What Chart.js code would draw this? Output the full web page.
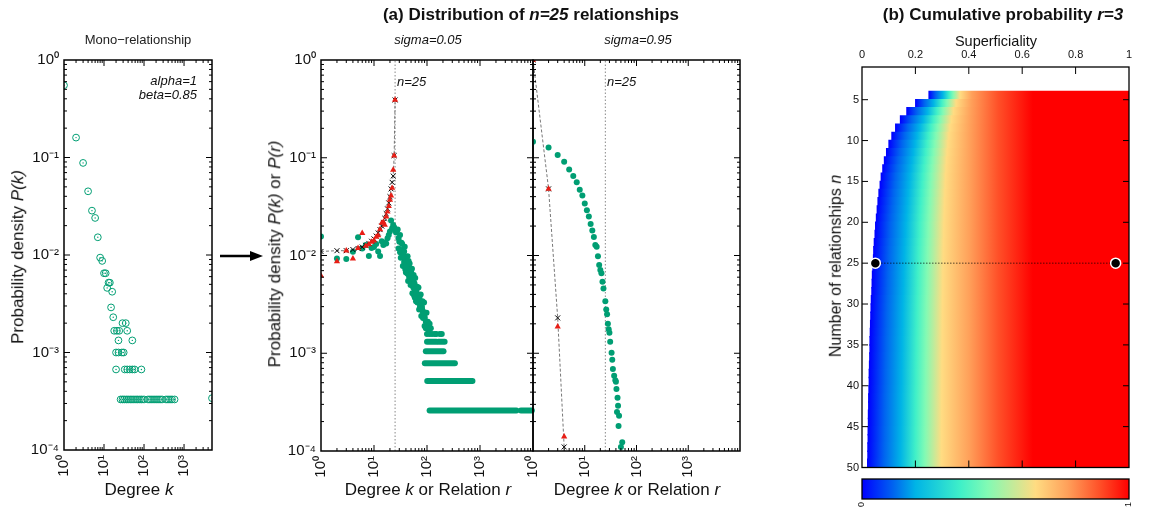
<!DOCTYPE html>
<html>
<head>
<meta charset="utf-8">
<script src="https://cdn.jsdelivr.net/npm/chart.js@4.4.1/dist/chart.umd.min.js"></script>
<style>
body { margin: 0; background: #fff; }
#fig { position: relative; width: 1150px; height: 514px; overflow: hidden; background: #fff;
       font-family: "Liberation Sans", Arial, Helvetica, sans-serif; color: #111; }
.box { position: absolute; }
.t { position: absolute; white-space: nowrap; transform: translate(-50%, -50%); line-height: 1.15; }
.r { transform: translate(-100%, -50%); }
.l { transform: translate(0, -50%); }
.rot { transform: translate(-50%, -50%) rotate(-90deg); }
.b { font-weight: bold; }
</style>
</head>
<body>
<div id="fig">
  <div class="box" style="left:0;top:0;width:230px;height:514px"><canvas id="mono" width="230" height="514"></canvas></div>
  <div class="box" style="left:250px;top:0;width:294px;height:514px"><canvas id="low" width="294" height="514"></canvas></div>
  <div class="box" style="left:515px;top:0;width:235px;height:514px"><canvas id="high" width="235" height="514"></canvas></div>
  <div class="box" style="left:800px;top:0;width:350px;height:474px"><canvas id="heat" width="350" height="474"></canvas></div>
  <div class="box" style="left:800px;top:474px;width:350px;height:40px"><canvas id="cbar" width="350" height="40"></canvas></div>

  <svg class="box" style="left:215px;top:248px" width="55" height="16">
    <line x1="5" y1="8" x2="38" y2="8" stroke="#000" stroke-width="2.5"/>
    <polygon points="35,3 48,8 35,13" fill="#000"/>
  </svg>

  <div class="t" style="left:138px;top:40px;font-size:13px;color:#222">Mono−relationship</div>
  <div class="t r" style="left:197px;top:81px;font-size:13px;font-style:italic">alpha=1</div>
  <div class="t r" style="left:197px;top:95px;font-size:13px;font-style:italic">beta=0.85</div>
  <div class="t rot" style="left:18px;top:257px;font-size:17px">Probability density <i>P(k)</i></div>
  <div class="t" style="left:139px;top:490px;font-size:17px">Degree <i>k</i></div>

  <div class="t b" style="left:531px;top:15px;font-size:17px">(a) Distribution of <i>n=25</i> relationships</div>
  <div class="t" style="left:428px;top:40px;font-size:13px;font-style:italic">sigma=0.05</div>
  <div class="t" style="left:638px;top:40px;font-size:13px;font-style:italic">sigma=0.95</div>
  <div class="t l" style="left:397px;top:82px;font-size:13px;font-style:italic">n=25</div>
  <div class="t l" style="left:607px;top:82px;font-size:13px;font-style:italic">n=25</div>
  <div class="t rot" style="left:275px;top:254px;font-size:17px">Probability density <i>P(k)</i> or <i>P(r)</i></div>
  <div class="t" style="left:428px;top:490px;font-size:17px">Degree <i>k</i> or Relation <i>r</i></div>
  <div class="t" style="left:637px;top:490px;font-size:17px">Degree <i>k</i> or Relation <i>r</i></div>

  <div class="t b" style="left:1003px;top:15px;font-size:17px">(b) Cumulative probability <i>r=3</i></div>
  <div class="t" style="left:996px;top:41px;font-size:14.5px">Superficiality</div>
  <div class="t rot" style="left:836px;top:266px;font-size:16px">Number of relationships <i>n</i></div>
</div>

<script>
// ---- mono-relationship (alpha=1, beta=0.85)
const monoDegree = [1, 2, 3, 4, 5, 6, 7, 8, 9, 10, 11, 12, 13, 14, 15, 16, 17,
  18, 21, 24, 38,
  29, 35,
  23, 51,
  20, 23, 28, 31,
  20, 33, 38, 44, 51, 58, 86,
  26, 29, 32, 36, 40, 45, 50, 56, 63, 70, 79, 88, 100, 126, 141, 158, 178, 200, 224, 251, 282, 355, 398, 447, 500, 580, 5000];
const monoDensity = [0.55, 0.16, 0.088, 0.045, 0.0285, 0.024, 0.0152, 0.0094, 0.0087, 0.0065, 0.0065, 0.0046, 0.0052, 0.0052, 0.0029, 0.0042, 0.0023,
  0.00167, 0.00167, 0.00167, 0.00167,
  0.002, 0.002,
  0.00133, 0.00133,
  0.001, 0.001, 0.001, 0.001,
  0.00067, 0.00067, 0.00067, 0.00067, 0.00067, 0.00067, 0.00067,
  0.00033, 0.00033, 0.00033, 0.00033, 0.00033, 0.00033, 0.00033, 0.00033, 0.00033, 0.00033, 0.00033, 0.00033, 0.00033,
  0.00033, 0.00033, 0.00033, 0.00033, 0.00033, 0.00033, 0.00033, 0.00033, 0.00033, 0.00033, 0.00033, 0.00033, 0.00033, 0.00034];

// ---- n=25, sigma=0.05 : degree distribution (green)
const lowDegree = [1, 2, 3, 4, 5, 6, 7, 8, 9, 10, 11, 12, 13, 14, 15, 16, 17, 18, 19, 20, 21, 22, 23, 24, 25, 26, 27,
  28, 29, 30, 31, 32, 33, 34, 35, 36, 37, 38, 39, 40, 41, 42, 43, 44, 45, 46, 47, 48, 49, 50, 51, 52, 53, 54, 55, 56,
  57, 58, 59, 60, 62, 63, 65, 66, 68, 69, 71, 72, 74, 76, 78, 80, 82, 84, 86, 88, 90, 92, 95, 98, 100, 104, 108, 112,
  61, 64, 67, 70, 73, 75, 77, 79, 81, 83, 85, 87, 89, 91,
  29, 31, 33, 35, 37, 39, 41, 43, 45, 47, 49, 51, 53, 55, 57, 59,
  95, 105, 118, 100, 112, 125, 140, 150, 175, 190];
const lowDensity = [0.0156, 0.0093, 0.0092, 0.0109, 0.0154, 0.0118, 0.0128, 0.0099, 0.0119, 0.0122, 0.0131, 0.0110, 0.0099,
  0.0140, 0.0128, 0.0136, 0.0133, 0.0150, 0.0162, 0.0176, 0.0228, 0.0190, 0.0205, 0.0195, 0.0185, 0.0172, 0.0180,
  0.0184, 0.0118, 0.0138, 0.0162, 0.0095, 0.0114, 0.0131, 0.0078, 0.0109, 0.0086, 0.0123, 0.0088, 0.0067, 0.0097,
  0.0074, 0.0098, 0.0055, 0.0077, 0.0061, 0.0083, 0.0064, 0.0050, 0.0069, 0.0052, 0.0073, 0.0041, 0.0056, 0.0047,
  0.0063, 0.0039, 0.0052, 0.0044, 0.0059, 0.0034, 0.0044, 0.0048, 0.0033, 0.0037, 0.0047, 0.0028, 0.0037, 0.0030,
  0.0040, 0.0024, 0.0030, 0.0034, 0.0023, 0.0026, 0.0033, 0.0019, 0.0026, 0.0021, 0.0026, 0.0018, 0.0021, 0.0017, 0.0020,
  0.0045, 0.0041, 0.0038, 0.0036, 0.0034, 0.0031, 0.0030, 0.0029, 0.0028, 0.0027, 0.0026, 0.0025, 0.0024, 0.0023,
  0.0150, 0.0108, 0.0135, 0.0098, 0.0110, 0.0072, 0.0080, 0.0065, 0.0088, 0.0058, 0.0070, 0.0064, 0.0060, 0.0058,
  0.0051, 0.0037,
  0.0018, 0.0018, 0.0018, 0.00157, 0.00157, 0.00157, 0.00157, 0.00157, 0.00157, 0.00157];
// horizontal runs of single-count degrees
const lowRunDensity = [0.00131, 0.00131, 0.00105, 0.00079, 0.00052, 0.00026, 0.00026];
const lowRunFrom = [100, 165, 95, 91, 101, 112, 5900];
const lowRunTo = [150, 215, 205, 336, 720, 4850, 9500];
// relation distribution P(r) and the model (x)
const lowRelation = [1, 2, 3, 4, 5, 6, 7, 8, 9, 10, 11, 12, 13, 14, 15, 16, 17, 18, 19, 20, 21, 22, 23, 24, 25];
const lowRelDensity = [0.0062, 0.0087, 0.0112, 0.0093, 0.0119, 0.0169, 0.0125, 0.0130, 0.0138, 0.0142, 0.0155, 0.0160,
  0.0185, 0.0215, 0.0220, 0.0205, 0.0250, 0.0280, 0.0320, 0.0370, 0.0410, 0.0490, 0.0750, 0.1050, 0.3900];
const lowModel = [0.0110, 0.0112, 0.0112, 0.0115, 0.0118, 0.0122, 0.0127, 0.0133, 0.0140, 0.0148, 0.0158, 0.0170,
  0.0184, 0.0200, 0.0218, 0.0240, 0.0268, 0.0300, 0.0345, 0.0400, 0.0480, 0.0560, 0.0650, 0.1050, 0.3900];

// ---- n=25, sigma=0.95
const highDegree = [1, 2, 3, 4, 5, 6, 7, 8, 9, 10, 11, 12, 13, 14, 15, 16, 17, 18, 19, 20, 21, 22, 23, 25, 26, 27, 28,
  29, 30, 31, 33, 34, 35, 37, 39, 40, 41, 43, 44, 42, 46, 45, 53, 50];
const highDensity = [0.146, 0.127, 0.107, 0.091, 0.076, 0.065, 0.056, 0.047, 0.041, 0.034, 0.029, 0.025, 0.021, 0.018,
  0.0155, 0.0128, 0.0123, 0.0098, 0.0080, 0.0071, 0.0066, 0.0054, 0.0046, 0.0034, 0.0028, 0.0025, 0.0020, 0.00176,
  0.00162, 0.00131, 0.00101, 0.00086, 0.00069, 0.00059, 0.00053, 0.00051, 0.00043, 0.00035, 0.00029, 0.00025,
  0.00023, 0.00018, 0.000123, 0.00011];
const highRelation = [1, 2, 3, 4];
const highRelDensity = [1.0, 0.048, 0.00187, 0.00014];
const highModel = [1.0, 0.048, 0.0023, 0.00011];

const relationsN = 25;

// ---- (b) cumulative probability r=3
const heatN = [4, 5, 6, 7, 8, 9, 10, 11, 12, 13, 14, 15, 16, 17, 18, 19, 20, 21, 22, 23, 24, 25, 26, 27, 28, 29, 30,
  31, 32, 33, 34, 35, 36, 37, 38, 39, 40, 41, 42, 43, 44, 45, 46, 47, 48, 49];
const heatStart = [0.25, 0.2, 0.167, 0.143, 0.125, 0.111, 0.1, 0.091, 0.083, 0.077, 0.071, 0.067, 0.0625, 0.059, 0.056,
  0.053, 0.05, 0.048, 0.045, 0.043, 0.042, 0.04, 0.038, 0.037, 0.036, 0.034, 0.033, 0.032, 0.031, 0.03, 0.029, 0.029,
  0.028, 0.027, 0.026, 0.026, 0.025, 0.024, 0.024, 0.023, 0.023, 0.022, 0.022, 0.021, 0.021, 0.02];
const heatLevel = [0, 0.117, 0.2, 0.37, 0.47, 0.65, 0.77, 0.89, 1];
const heatLevelAt = [0, 0.065, 0.13, 0.188, 0.226, 0.291, 0.40, 0.51, 0.64];
const sigmaMarks = [0.05, 0.95];
const sigmaRow = 25;

const palette = ['rgb(0,0,255)', 'rgb(0,100,240)', 'rgb(0,180,230)', 'rgb(64,240,200)', 'rgb(130,250,180)',
  'rgb(255,220,130)', 'rgb(255,160,90)', 'rgb(255,80,40)', 'rgb(255,0,0)'];

const GREEN = 'rgb(0,158,115)';
const RED = 'rgb(232,30,22)';

Chart.defaults.font.family = '"Liberation Sans", Arial, Helvetica, sans-serif';
Chart.defaults.color = '#111';
Chart.defaults.animation = false;

const SUP = {'0': '⁰', '1': '¹', '2': '²', '3': '³', '4': '⁴', '-': '⁻'};

function logTicks(min, max) {
  return (scale) => {
    const out = [];
    for (let e = Math.floor(Math.log10(min)); e <= Math.ceil(Math.log10(max)); e++) {
      for (let m = 1; m < 10; m++) {
        const v = m * Math.pow(10, e);
        if (v >= min * 0.999 && v <= max * 1.001) out.push({value: v});
      }
    }
    scale.ticks = out;
  };
}

function powLabel(max, skipMax) {
  return (v) => {
    const l = Math.log10(v);
    const e = Math.round(l);
    if (Math.abs(l - e) > 1e-6) return '';
    if (skipMax && v >= max * 0.999) return '';
    return '10' + String(e).split('').map(c => SUP[c]).join('');
  };
}

// the axis labels must not push the plot area around
function fixH(h) { return s => { s.height = h; s.paddingLeft = 0; s.paddingRight = 0; }; }
function fixW(w) { return s => { s.width = w; s.paddingTop = 0; s.paddingBottom = 0; }; }

const frameTicks = {
  id: 'frameTicks',
  afterDatasetsDraw(chart, args, opts) {
    const ctx = chart.ctx, a = chart.chartArea;
    ctx.save();
    ctx.strokeStyle = '#000';
    ctx.lineWidth = 1;
    (opts.axes || []).forEach(ax => {
      const s = chart.scales[ax.id];
      s.ticks.forEach(t => {
        let major = true;
        if (s.type === 'logarithmic') {
          const l = Math.log10(t.value);
          major = Math.abs(l - Math.round(l)) < 1e-6;
        }
        const len = major ? ax.major : ax.minor;
        const p = s.getPixelForValue(t.value);
        ctx.beginPath();
        if (s.isHorizontal()) {
          if (p < a.left + 0.5 || p > a.right - 0.5) return;
          ctx.moveTo(p, a.bottom); ctx.lineTo(p, a.bottom - len);
          ctx.moveTo(p, a.top); ctx.lineTo(p, a.top + len);
        } else {
          if (p < a.top + 0.5 || p > a.bottom - 0.5) return;
          ctx.moveTo(a.left, p); ctx.lineTo(a.left + len, p);
          ctx.moveTo(a.right, p); ctx.lineTo(a.right - len, p);
        }
        ctx.stroke();
      });
    });
    ctx.lineWidth = opts.lineWidth || 1.5;
    ctx.strokeRect(a.left, a.top, a.right - a.left, a.bottom - a.top);
    ctx.restore();
  }
};

function logX(min, max, height, skipMax) {
  return {
    type: 'logarithmic', min: min, max: max, offset: false,
    grid: {display: false, drawTicks: false}, border: {display: false},
    afterBuildTicks: logTicks(min, max),
    afterFit: fixH(height),
    ticks: {autoSkip: false, minRotation: 90, maxRotation: 90, padding: 5,
            font: {size: 15}, callback: powLabel(max, skipMax)}
  };
}

function logY(min, max, width, show) {
  return {
    type: 'logarithmic', min: min, max: max, offset: false,
    grid: {display: false, drawTicks: false}, border: {display: false},
    afterBuildTicks: logTicks(min, max),
    afterFit: fixW(width),
    ticks: {display: show, autoSkip: false, padding: 5, font: {size: 15}, callback: powLabel(max, false)}
  };
}

function pts(xs, ys) { return xs.map((x, i) => ({x: x, y: ys[i]})); }

const plainPlugins = (axes) => ({
  legend: {display: false}, tooltip: {enabled: false},
  frameTicks: {axes: axes, lineWidth: 1.5}
});

// panel 1
new Chart(document.getElementById('mono'), {
  type: 'scatter',
  data: {datasets: [
    {data: pts(monoDegree, monoDensity), pointRadius: 3.4, pointBorderWidth: 1, pointBorderColor: GREEN,
     pointBackgroundColor: 'rgba(0,0,0,0)', order: 2},
    {data: pts(monoDegree, monoDensity), pointRadius: 0.7, pointBorderWidth: 0, pointBackgroundColor: GREEN, order: 1}
  ]},
  options: {
    responsive: false,
    layout: {padding: {top: 60, right: 18, left: 0, bottom: 0}},
    scales: {x: logX(1, 5000, 64, false), y: logY(1e-4, 1, 64, true)},
    plugins: plainPlugins([{id: 'x', major: 6, minor: 3}, {id: 'y', major: 6, minor: 3}])
  },
  plugins: [frameTicks]
});

function relationPanel(canvasId, degree, density, rel, relDensity, model, runs, pad, yWidth, showY) {
  const ds = [
    {type: 'line', data: [{x: relationsN, y: 1e-4}, {x: relationsN, y: 1}], borderColor: '#888', borderWidth: 1,
     borderDash: [1.5, 2], pointRadius: 0, order: 6},
    {data: pts(degree, density), pointRadius: 3, pointBorderWidth: 0, pointBackgroundColor: GREEN, order: 4},
    {type: 'line', data: pts(rel, model), borderColor: '#555', borderWidth: 0.8, borderDash: [3, 2],
     pointStyle: 'crossRot', pointRadius: 3.5, pointBorderColor: '#000', pointBorderWidth: 1, order: 3},
    {data: pts(rel, relDensity), pointStyle: 'triangle', pointRadius: 3.6, pointBorderWidth: 0,
     pointBackgroundColor: RED, order: 2}
  ];
  runs.density.forEach((p, i) => {
    ds.push({type: 'line', data: [{x: runs.from[i], y: p}, {x: runs.to[i], y: p}], borderColor: GREEN,
             borderWidth: 6, borderCapStyle: 'round', pointRadius: 0, order: 5, clip: false});
  });
  new Chart(document.getElementById(canvasId), {
    type: 'scatter',
    data: {datasets: ds},
    options: {
      responsive: false,
      layout: {padding: pad},
      scales: {x: logX(1, 1e4, 63, true), y: logY(1e-4, 1, yWidth, showY)},
      plugins: plainPlugins([{id: 'x', major: 6, minor: 3}, {id: 'y', major: 6, minor: 3}])
    },
    plugins: [frameTicks]
  });
}

relationPanel('low', lowDegree, lowDensity, lowRelation, lowRelDensity, lowModel,
  {density: lowRunDensity, from: lowRunFrom, to: lowRunTo},
  {top: 60, right: 11, left: 0, bottom: 0}, 71, true);
relationPanel('high', highDegree, highDensity, highRelation, highRelDensity, highModel,
  {density: [], from: [], to: []},
  {top: 60, right: 10, left: 18, bottom: 0}, 0, false);

// panel (b)
function rowGradient(c) {
  const chart = c.chart;
  if (!chart.chartArea) return palette[8];
  const xs = chart.scales.x;
  const x0 = heatStart[c.dataIndex];
  const p0 = xs.getPixelForValue(x0), p1 = xs.getPixelForValue(1);
  const g = chart.ctx.createLinearGradient(p0, 0, p1, 0);
  const T = 0.42;
  heatLevelAt.forEach((p, i) => {
    const q = p < T ? x0 + p * (T - x0) / T : p;
    g.addColorStop(Math.min(1, Math.max(0, (q - x0) / (1 - x0))), palette[i]);
  });
  return g;
}

new Chart(document.getElementById('heat'), {
  type: 'bar',
  data: {datasets: [
    {type: 'line', data: sigmaMarks.map(s => ({x: s, y: sigmaRow})), showLine: false, pointRadius: 5,
     pointBackgroundColor: '#000', pointBorderColor: '#fff', pointBorderWidth: 1.5, order: 0},
    {type: 'line', data: sigmaMarks.map(s => ({x: s, y: sigmaRow})), borderColor: '#000', borderWidth: 1,
     borderDash: [1, 2], pointRadius: 0, order: 1},
    {type: 'bar', indexAxis: 'y', data: heatN.map((n, i) => ({y: n + 0.5, x: [heatStart[i], 1]})),
     backgroundColor: rowGradient, barThickness: 9, borderWidth: 0, order: 2}
  ]},
  options: {
    responsive: false,
    layout: {padding: {top: 0, right: 21, left: 0, bottom: 5}},
    scales: {
      x: {type: 'linear', position: 'top', min: 0, max: 1, offset: false,
          grid: {display: false, drawTicks: false, offset: false}, border: {display: false},
          afterBuildTicks: s => { s.ticks = [0, 0.2, 0.4, 0.6, 0.8, 1].map(v => ({value: v})); },
          afterFit: fixH(67),
          ticks: {autoSkip: false, maxRotation: 0, padding: 5, font: {size: 11},
                  callback: v => (v === 0 || v === 1) ? String(v) : v.toFixed(1)}},
      y: {type: 'linear', reverse: true, min: 1, max: 50, offset: false,
          grid: {display: false, drawTicks: false, offset: false}, border: {display: false},
          afterBuildTicks: s => { s.ticks = [5, 10, 15, 20, 25, 30, 35, 40, 45, 50].map(v => ({value: v})); },
          afterFit: fixW(62),
          ticks: {autoSkip: false, padding: 3, font: {size: 11}}}
    },
    plugins: {legend: {display: false}, tooltip: {enabled: false},
              frameTicks: {axes: [{id: 'x', major: 7, minor: 7}, {id: 'y', major: 6, minor: 6}], lineWidth: 1.3}}
  },
  plugins: [frameTicks]
});

// colour bar
function barGradient(c) {
  const chart = c.chart;
  if (!chart.chartArea) return palette[0];
  const xs = chart.scales.x;
  const g = chart.ctx.createLinearGradient(xs.getPixelForValue(0), 0, xs.getPixelForValue(1), 0);
  heatLevel.forEach((v, i) => g.addColorStop(v, palette[i]));
  return g;
}

new Chart(document.getElementById('cbar'), {
  type: 'bar',
  data: {labels: [''], datasets: [{data: [[0, 1]], backgroundColor: barGradient, barPercentage: 1,
                                   categoryPercentage: 1, borderWidth: 0}]},
  options: {
    responsive: false, indexAxis: 'y',
    layout: {padding: {top: 5, right: 21, left: 62, bottom: 0}},
    scales: {
      x: {type: 'linear', min: 0, max: 1, offset: false, grid: {display: false, drawTicks: false}, border: {display: false},
          afterBuildTicks: s => { s.ticks = [{value: 0}, {value: 1}]; },
          afterFit: fixH(15),
          ticks: {autoSkip: false, minRotation: 90, maxRotation: 90, padding: 3, font: {size: 9}}},
      y: {display: false, offset: true}
    },
    plugins: {legend: {display: false}, tooltip: {enabled: false}, frameTicks: {axes: [], lineWidth: 1.3}}
  },
  plugins: [frameTicks]
});
</script>
</body>
</html>
